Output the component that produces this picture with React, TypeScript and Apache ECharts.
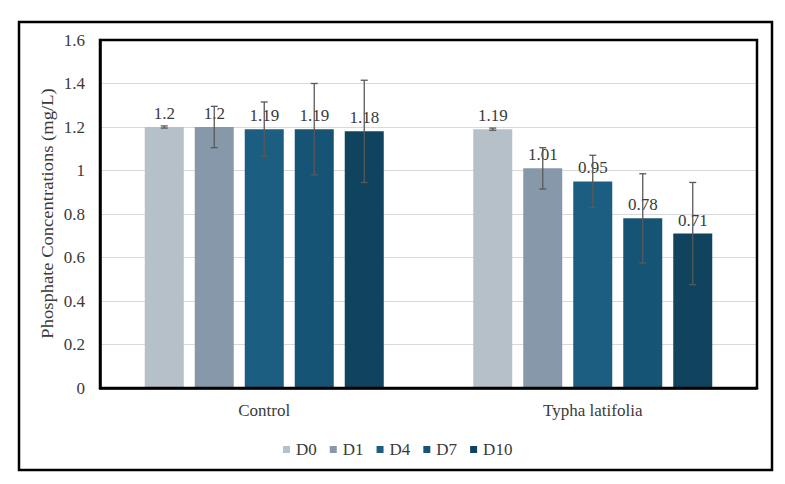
import React, { useEffect, useRef } from "react";
import * as echarts from "echarts";

// Treatments on the category axis, sampling days as series
const categories = ["Control", "Typha latifolia"];
const days = ["D0", "D1", "D4", "D7", "D10"];
const colors = ["#b6c0c9", "#8698aa", "#1b5e82", "#165475", "#0f435e"];

// Mean phosphate concentration (mg/L) per day, [Control, Typha latifolia]
const meanD0 = [1.2, 1.19];
const meanD1 = [1.2, 1.01];
const meanD4 = [1.19, 0.95];
const meanD7 = [1.19, 0.78];
const meanD10 = [1.18, 0.71];

// Standard deviations for the error bars
const sdD0 = [0.005, 0.005];
const sdD1 = [0.095, 0.095];
const sdD4 = [0.125, 0.12];
const sdD7 = [0.21, 0.205];
const sdD10 = [0.235, 0.235];

const yTicks = { min: 0, max: 1.6, interval: 0.2 };
const yTitle = "Phosphate Concentrations (mg/L)";

const means = [meanD0, meanD1, meanD4, meanD7, meanD10];
const sds = [sdD0, sdD1, sdD4, sdD7, sdD10];

const FONT = "Liberation Serif";
const BAR_W = 39;
const BAR_GAP = 11;

export default function App() {
  const ref = useRef<HTMLDivElement>(null);

  useEffect(() => {
    if (!ref.current) return;
    const chart = echarts.init(ref.current, null, { renderer: "svg" });

    const barSeries = days.map((d, i) => ({
      name: d,
      type: "bar",
      data: means[i],
      barWidth: BAR_W,
      barGap: `${(BAR_GAP / BAR_W) * 100}%`,
      itemStyle: { color: colors[i] },
      label: {
        show: true,
        position: "top",
        distance: 5,
        color: "#3a3a3a",
        fontFamily: FONT,
        fontSize: 17,
        formatter: (p: any) => String(p.value),
      },
      z: 2,
    }));

    const errSeries = days.map((d, i) => ({
      name: d + " sd",
      type: "custom",
      data: means[i].map((m, k) => [k, m, sds[i][k]]),
      z: 5,
      silent: true,
      encode: { x: 0, y: 1 },
      renderItem: (params: any, api: any) => {
        const k = api.value(0);
        const m = api.value(1);
        const e = api.value(2);
        const offset = (i - (days.length - 1) / 2) * (BAR_W + BAR_GAP);
        const hi = api.coord([k, m + e]);
        const lo = api.coord([k, m - e]);
        const x = hi[0] + offset;
        const cap = 3.5;
        const style = { stroke: "#595959", lineWidth: 1.3 };
        return {
          type: "group",
          children: [
            { type: "line", shape: { x1: x, y1: hi[1], x2: x, y2: lo[1] }, style },
            { type: "line", shape: { x1: x - cap, y1: hi[1], x2: x + cap, y2: hi[1] }, style },
            { type: "line", shape: { x1: x - cap, y1: lo[1], x2: x + cap, y2: lo[1] }, style },
          ],
        };
      },
    }));

    chart.setOption({
      animation: false,
      backgroundColor: "#ffffff",
      textStyle: { fontFamily: FONT },
      graphic: [
        {
          type: "rect",
          shape: { x: 19, y: 22, width: 753, height: 448 },
          style: { fill: "none", stroke: "#000", lineWidth: 2.5 },
          silent: true,
          z: 10,
        },
        {
          // vertical axis title, slightly stretched along its length
          type: "text",
          x: 48,
          y: 213.5,
          rotation: Math.PI / 2,
          scaleX: 1.16,
          silent: true,
          style: {
            text: yTitle,
            fontFamily: FONT,
            fontSize: 16,
            fill: "#3a3a3a",
            align: "center",
            verticalAlign: "middle",
          },
        },
      ],
      grid: {
        left: 100,
        right: 28,
        top: 40,
        bottom: 96,
        show: true,
        borderColor: "#000",
        borderWidth: 2.5,
        z: 3,
      },
      legend: {
        data: days,
        left: 278,
        top: 436,
        itemWidth: 7,
        itemHeight: 7,
        itemGap: 13,
        icon: "rect",
        textStyle: { fontFamily: FONT, fontSize: 17, color: "#3a3a3a", padding: [0, 0, 0, 1] },
      },
      xAxis: {
        type: "category",
        data: categories,
        axisLine: { show: true, lineStyle: { color: "#000", width: 2.5 } },
        axisTick: { show: false },
        axisLabel: { fontFamily: FONT, fontSize: 17, color: "#3a3a3a", margin: 14 },
      },
      yAxis: {
        type: "value",
        min: yTicks.min,
        max: yTicks.max,
        interval: yTicks.interval,
        axisLine: { show: true, lineStyle: { color: "#000", width: 2.5 } },
        axisTick: { show: false },
        axisLabel: {
          fontFamily: FONT,
          fontSize: 17,
          color: "#3a3a3a",
          margin: 15,
          formatter: (v: number) => String(Math.round(v * 10) / 10),
        },
        splitLine: { show: true, lineStyle: { color: "#d9d9d9", width: 1 } },
      },
      series: [...barSeries, ...errSeries],
    });

    return () => chart.dispose();
  }, []);

  return (
    <div
      ref={ref}
      style={{ position: "fixed", left: 0, top: 0, width: 785, height: 484 }}
    />
  );
}
